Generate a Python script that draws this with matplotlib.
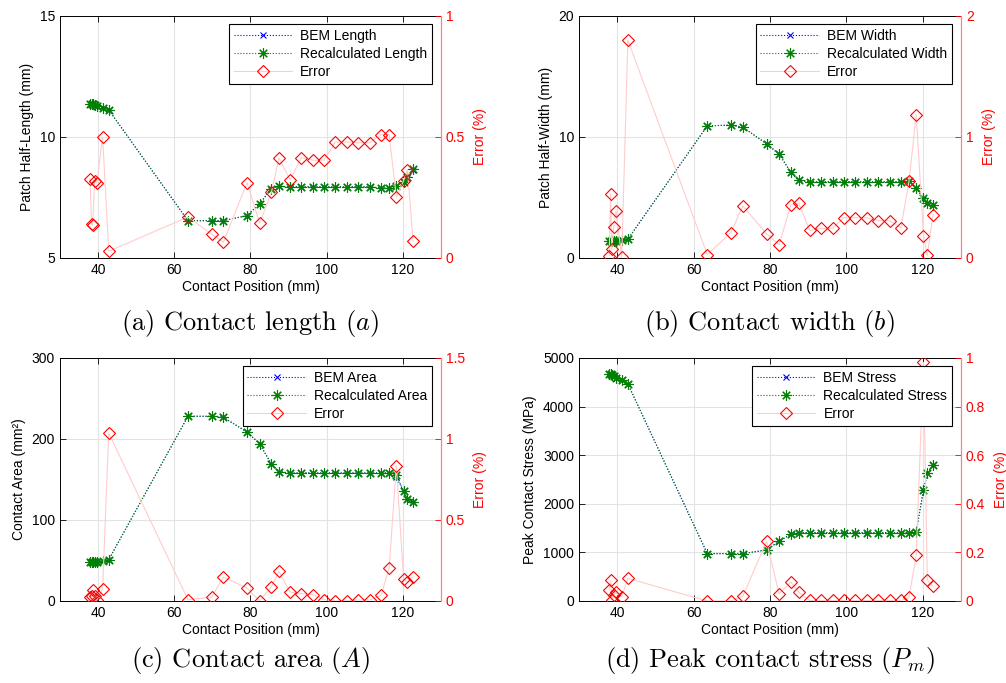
import numpy as np
import matplotlib
matplotlib.use('Agg')
import matplotlib.pyplot as plt

plt.rcParams['font.family'] = ['Liberation Sans', 'DejaVu Sans']
plt.rcParams['mathtext.fontset'] = 'cm'

# contact positions (mm)
pos = [37.9, 38.3, 38.6, 39.1, 39.7, 41.2, 42.8, 63.6, 69.8, 72.9, 79.1, 82.4,
       85.5, 87.5, 90.4, 93.4, 96.4, 99.3, 102.3, 105.3, 108.3, 111.3, 114.3,
       116.4, 118.3, 120.2, 121.2, 122.7]

# (a) half-length
length_bem = [11.38, 11.37, 11.35, 11.31, 11.27, 11.2, 11.12,
              6.54, 6.54, 6.54, 6.75, 7.24, 7.86, 7.96,
              7.94, 7.94, 7.94, 7.94, 7.94, 7.94, 7.94, 7.94,
              7.88, 7.88, 7.96, 8.14, 8.3, 8.64]
length_rec = [11.38, 11.37, 11.35, 11.31, 11.27, 11.2, 11.12,
              6.54, 6.54, 6.54, 6.75, 7.24, 7.86, 7.96,
              7.94, 7.94, 7.94, 7.94, 7.94, 7.94, 7.94, 7.94,
              7.9, 7.9, 7.97, 8.16, 8.33, 8.66]
length_err = [0.327, 0.14, 0.135, 0.32, 0.31, 0.50, 0.028,
              0.169, 0.099, 0.065, 0.311, 0.144, 0.271, 0.413,
              0.323, 0.415, 0.404, 0.404, 0.479, 0.479, 0.476, 0.476,
              0.51, 0.51, 0.252, 0.319, 0.365, 0.069]

# (b) half-width
width_bem = [1.4, 1.4, 1.4, 1.4, 1.42, 1.45, 1.55,
             10.92, 10.98, 10.81, 9.44, 8.58, 7.07, 6.41,
             6.3, 6.3, 6.3, 6.3, 6.3, 6.3, 6.3, 6.3, 6.3,
             6.33, 5.75, 4.9, 4.54, 4.35]
width_rec = [1.4, 1.4, 1.4, 1.4, 1.42, 1.45, 1.55,
             10.92, 10.98, 10.81, 9.44, 8.58, 7.07, 6.41,
             6.3, 6.3, 6.3, 6.3, 6.3, 6.3, 6.3, 6.3, 6.3,
             6.35, 5.82, 4.92, 4.55, 4.36]
width_err = [0.02, 0.53, 0.07, 0.26, 0.39, 0.005, 1.80,
             0.028, 0.21, 0.43, 0.2, 0.11, 0.44, 0.455,
             0.229, 0.245, 0.245, 0.333, 0.333, 0.333, 0.308, 0.308, 0.25,
             0.633, 1.184, 0.179, 0.022, 0.358]

# (c) area
area_bem = [48, 48, 48, 48, 48.5, 49, 51,
            228, 228, 226.7, 208.6, 194.2, 169, 159.7,
            158, 158, 158, 158, 158, 158, 158, 158, 158, 158,
            152.7, 135.4, 126.3, 121.8]
area_rec = [48, 48, 48, 48, 48.5, 49, 51,
            228, 228, 226.7, 208.6, 194.2, 169, 159.7,
            158, 158, 158, 158, 158, 158, 158, 158, 158, 158,
            156, 135.6, 126.5, 122]
area_err = [0.025, 0.03, 0.065, 0.033, 0.004, 0.074, 1.037,
            0.008, 0.023, 0.148, 0.08, 0.0, 0.088, 0.183,
            0.055, 0.045, 0.039, 0.008, 0.0, 0.0, 0.006, 0.006, 0.035,
            0.203, 0.834, 0.138, 0.115, 0.148]

# (d) peak stress
stress_bem = [4670, 4660, 4640, 4620, 4590, 4540, 4465,
              974, 974, 974, 1050, 1228, 1378, 1405,
              1405, 1405, 1405, 1405, 1405, 1405, 1405, 1405, 1405, 1405,
              1427, 2284, 2627, 2791]
stress_rec = [4670, 4660, 4640, 4620, 4590, 4540, 4465,
              974, 974, 974, 1050, 1228, 1378, 1405,
              1405, 1405, 1405, 1405, 1405, 1405, 1405, 1405, 1405, 1405,
              1427, 2290, 2627, 2791]
stress_err = [0.045, 0.085, 0.005, 0.025, 0.035, 0.018, 0.093,
              0.0, 0.0, 0.019, 0.245, 0.03, 0.077, 0.036,
              0.002, 0.002, 0.002, 0.002, 0.002, 0.002, 0.002, 0.002, 0.002,
              0.015, 0.188, 0.982, 0.086, 0.06]

xticks = [40, 60, 80, 100, 120]

FS = 10
GREEN = (0, 0.5, 0)
PINK = (1, 0.8, 0.8)


def make_panel(rect, bem, rec, err, ylim, yticks, elim, eticks, ylabel, names, caption):
    ax = fig.add_axes(rect)
    ax.plot(pos, bem, color='b', ls=':', lw=0.8, marker='x', ms=5, mew=0.8, label=names[0])
    ax.plot(pos, rec, color=GREEN, ls=':', lw=0.8, marker=(8, 2, 0), ms=7.5, mew=0.8, label=names[1])
    ax.set_xlim(30, 130)
    ax.set_ylim(*ylim)
    ax.set_xticks(xticks)
    ax.set_yticks(yticks)
    ax.grid(True, color='#e3e3e3', lw=0.8)
    ax.set_axisbelow(True)
    ax.tick_params(direction='in', length=4, labelsize=FS, top=True, right=False, width=0.6)
    ax.set_xlabel('Contact Position (mm)', fontsize=FS, labelpad=2)
    ax.set_ylabel(ylabel, fontsize=FS, labelpad=4)
    ax.spines['right'].set_visible(False)
    for s in ['left', 'top', 'bottom']:
        ax.spines[s].set_linewidth(0.7)

    ax2 = ax.twinx()
    ax2.plot(pos, err, color=PINK, lw=0.8, marker='D', ms=6, mfc='none', mec='r', mew=0.8, label='Error')
    ax2.set_ylim(*elim)
    ax2.set_yticks(eticks)
    ax2.set_yticklabels([('%g' % t) for t in eticks])
    ax2.tick_params(direction='in', length=4, labelsize=FS, colors='r', width=0.6)
    ax2.set_ylabel('Error (%)', fontsize=FS, color='r', labelpad=6)
    for s in ['left', 'top', 'bottom']:
        ax2.spines[s].set_visible(False)
    ax2.spines['right'].set_color((1, 0.5, 0.5))
    ax2.spines['right'].set_linewidth(0.9)

    h1, l1 = ax.get_legend_handles_labels()
    h2, l2 = ax2.get_legend_handles_labels()
    leg = ax2.legend(h1 + h2, l1 + l2, loc='upper right', bbox_to_anchor=(0.977, 0.967),
                     borderaxespad=0, fontsize=FS, numpoints=1, handlelength=4.2,
                     fancybox=False, framealpha=1, edgecolor='k', labelspacing=0.3,
                     borderpad=0.35, handletextpad=0.6)
    leg.get_frame().set_linewidth(0.8)

    cx = rect[0] + rect[2] / 2
    fig.text(cx, caption[1], caption[0], ha='center', va='center', fontsize=19,
             family='cmr10')
    return ax, ax2


fig = plt.figure(figsize=(10.06, 6.83), dpi=100)

make_panel([0.0596, 0.6223, 0.3787, 0.3543], length_bem, length_rec, length_err,
           (5, 15), [5, 10, 15], (0, 1), [0, 0.5, 1], 'Patch Half-Length (mm)',
           ['BEM Length', 'Recalculated Length'], ('(a) Contact length ($a$)', 0.527))
make_panel([0.5755, 0.6223, 0.3797, 0.3543], width_bem, width_rec, width_err,
           (0, 20), [0, 10, 20], (0, 2), [0, 1, 2], 'Patch Half-Width (mm)',
           ['BEM Width', 'Recalculated Width'], ('(b) Contact width ($b$)', 0.527))
make_panel([0.0596, 0.1201, 0.3787, 0.3558], area_bem, area_rec, area_err,
           (0, 300), [0, 100, 200, 300], (0, 1.5), [0, 0.5, 1, 1.5], 'Contact Area (mm²)',
           ['BEM Area', 'Recalculated Area'], ('(c) Contact area ($A$)', 0.033))
make_panel([0.5755, 0.1201, 0.3797, 0.3558], stress_bem, stress_rec, stress_err,
           (0, 5000), [0, 1000, 2000, 3000, 4000, 5000], (0, 1), [0, 0.2, 0.4, 0.6, 0.8, 1],
           'Peak Contact Stress (MPa)',
           ['BEM Stress', 'Recalculated Stress'], ('(d) Peak contact stress ($P_m$)', 0.033))

fig.savefig('out.png', dpi=100)
